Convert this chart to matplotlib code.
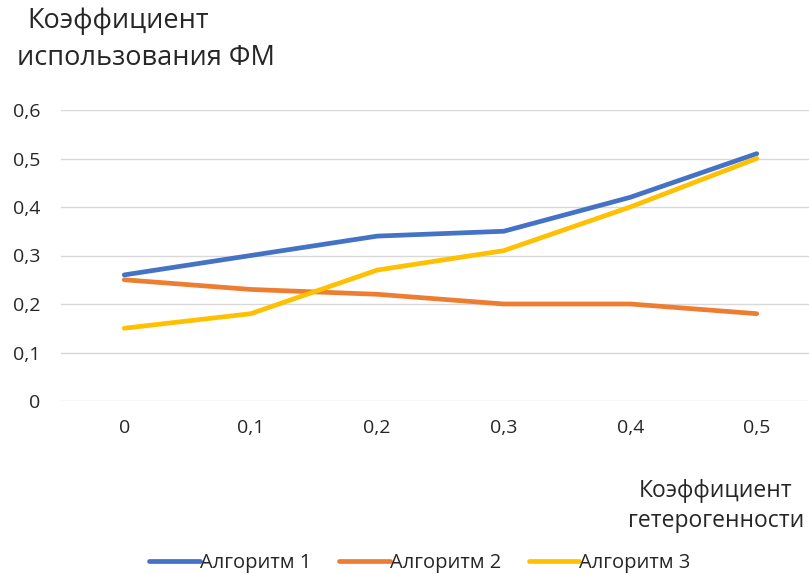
import matplotlib
matplotlib.use("Agg")
import matplotlib.pyplot as plt

categories = ["0", "0,1", "0,2", "0,3", "0,4", "0,5"]
alg1 = [0.26, 0.30, 0.34, 0.35, 0.42, 0.51]
alg2 = [0.25, 0.23, 0.22, 0.20, 0.20, 0.18]
alg3 = [0.15, 0.18, 0.27, 0.31, 0.40, 0.50]
series_names = ["Алгоритм 1", "Алгоритм 2", "Алгоритм 3"]
yticks = [0, 0.1, 0.2, 0.3, 0.4, 0.5, 0.6]
ytick_labels = ["0", "0,1", "0,2", "0,3", "0,4", "0,5", "0,6"]

plt.rcParams['font.family'] = ['Open Sans', 'DejaVu Sans']

W, H = 809, 574
fig = plt.figure(figsize=(W/100, H/100), dpi=100)
left, right, top, bottom = 61, 820, 110, 401
ax = fig.add_axes([left/W, 1-bottom/H, (right-left)/W, (bottom-top)/H])

x = list(range(len(categories)))
colors = ["#4472C4", "#ED7D31", "#FFC000"]
for vals, name, c in zip([alg1, alg2, alg3], series_names, colors):
    ax.plot(x, vals, color=c, lw=3.4, label=name, solid_capstyle='round', solid_joinstyle='round')

ax.set_xlim(-0.5, len(categories)-0.5)
ax.set_ylim(0, 0.6)
ax.set_yticks(yticks)
ax.set_yticklabels(ytick_labels)
ax.set_xticks(x)
ax.set_xticklabels(categories)
ax.grid(axis='y', color='#D9D9D9', lw=1)
ax.set_axisbelow(True)
for s in ax.spines.values():
    s.set_visible(False)
ax.tick_params(length=0, labelsize=14, labelcolor='#262626')
ax.tick_params(axis='y', pad=15)
ax.tick_params(axis='x', pad=13)

fig.text(27/W, 1-21/H, "Коэффициент", ha='left', va='center',
         fontsize=19.5, color='#262626')
fig.text(17/W, 1-58/H, "использования ФМ", ha='left', va='center',
         fontsize=19.5, color='#262626')
fig.text(716/W, 1-506/H, "Коэффициент\nгетерогенности", ha='center', va='center',
         fontsize=16.5, color='#262626', linespacing=1.3)

fig.legend(loc='center', bbox_to_anchor=(420/W, 1-563/H), ncol=3, frameon=False,
           fontsize=14.5, handlelength=2.5, handletextpad=0.0, columnspacing=1.4,
           labelcolor='#262626')

fig.savefig("out.png", dpi=100)
